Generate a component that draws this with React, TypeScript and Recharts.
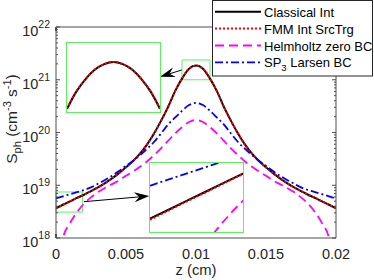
import React from 'react';
import { LineChart, Line, XAxis, YAxis, ReferenceArea, ReferenceLine, Legend } from 'recharts';

const FONT = '"Liberation Sans", Arial, Helvetica, sans-serif';
const INK = '#262626';
const AXIS = '#4d4d4d';
const BOX_GREEN = '#5ef05e';

// z positions (cm)
const zValues = [
  0, 0.0005, 0.001, 0.0015, 0.002, 0.0025, 0.003, 0.0035, 0.004, 0.0045,
  0.005, 0.0055, 0.006, 0.0065, 0.007, 0.0075, 0.008, 0.0085, 0.009, 0.0095,
  0.01,
  0.0105, 0.011, 0.0115, 0.012, 0.0125, 0.013, 0.0135, 0.014, 0.0145, 0.015,
  0.0155, 0.016, 0.0165, 0.017, 0.0175, 0.018, 0.0185, 0.019, 0.0195, 0.02,
];

// S_ph (cm^-3 s^-1)
const classicalInt = [
  3.67e18, 4.27e18, 4.95e18, 5.75e18, 6.61e18, 7.76e18, 9.12e18, 1.1e19, 1.35e19, 1.7e19,
  2.19e19, 2.88e19, 3.98e19, 5.89e19, 9.55e19, 1.66e20, 3.02e20, 6.03e20, 1.05e21, 1.62e21,
  1.86e21,
  1.62e21, 1.05e21, 6.03e20, 3.02e20, 1.66e20, 9.55e19, 5.89e19, 3.98e19, 2.88e19, 2.19e19,
  1.7e19, 1.35e19, 1.1e19, 9.12e18, 7.76e18, 6.61e18, 5.75e18, 4.95e18, 4.27e18, 3.67e18,
];

const fmmIntSrcTrg = [
  3.67e18, 4.27e18, 4.95e18, 5.75e18, 6.61e18, 7.76e18, 9.12e18, 1.1e19, 1.35e19, 1.7e19,
  2.19e19, 2.88e19, 3.98e19, 5.89e19, 9.55e19, 1.66e20, 3.02e20, 6.03e20, 1.05e21, 1.62e21,
  1.86e21,
  1.62e21, 1.05e21, 6.03e20, 3.02e20, 1.66e20, 9.55e19, 5.89e19, 3.98e19, 2.88e19, 2.19e19,
  1.7e19, 1.35e19, 1.1e19, 9.12e18, 7.76e18, 6.61e18, 5.75e18, 4.95e18, 4.27e18, 3.67e18,
];

const helmholtzZeroBC = [
  1e17, 1.0e18, 1.91e18, 3.09e18, 4.47e18, 5.89e18, 7.41e18, 8.91e18, 1.05e19, 1.23e19,
  1.51e19, 1.82e19, 2.24e19, 2.82e19, 3.72e19, 5.01e19, 6.92e19, 9.55e19, 1.26e20, 1.58e20,
  1.74e20,
  1.58e20, 1.26e20, 9.55e19, 6.92e19, 5.01e19, 3.72e19, 2.82e19, 2.24e19, 1.82e19, 1.51e19,
  1.23e19, 1.05e19, 8.91e18, 7.41e18, 5.89e18, 4.47e18, 3.09e18, 1.91e18, 1.0e18, 1e17,
];

const sp3LarsenBC = [
  5.62e18, 6.17e18, 6.76e18, 7.41e18, 8.13e18, 9.12e18, 1.07e19, 1.26e19, 1.51e19, 1.86e19,
  2.34e19, 2.88e19, 3.72e19, 4.9e19, 6.61e19, 9.55e19, 1.41e20, 1.91e20, 2.57e20, 3.31e20,
  3.63e20,
  3.31e20, 2.57e20, 1.91e20, 1.41e20, 9.55e19, 6.61e19, 4.9e19, 3.72e19, 2.88e19, 2.34e19,
  1.86e19, 1.51e19, 1.26e19, 1.07e19, 9.12e18, 8.13e18, 7.41e18, 6.76e18, 6.17e18, 5.62e18,
];

// zoomed peak (upper inset)
const peakZ = [0.009, 0.0092, 0.0094, 0.0096, 0.0098, 0.01, 0.0102, 0.0104, 0.0106, 0.0108, 0.011];
const peakClassical = [1.04e21, 1.29e21, 1.51e21, 1.7e21, 1.82e21, 1.87e21, 1.82e21, 1.7e21, 1.51e21, 1.29e21, 1.04e21];
const peakFmm = [1.04e21, 1.29e21, 1.51e21, 1.7e21, 1.82e21, 1.87e21, 1.82e21, 1.7e21, 1.51e21, 1.29e21, 1.04e21];

// zoomed left edge (lower inset)
const edgeZ = [0, 0.0004, 0.0008, 0.0012, 0.0016, 0.002];
const edgeClassical = [3.67e18, 4.14e18, 4.68e18, 5.27e18, 5.96e18, 6.71e18];
const edgeFmm = [3.62e18, 4.1e18, 4.64e18, 5.23e18, 5.92e18, 6.67e18];
const edgeHelmholtz = [1e17, 8.9e17, 1.9e18, 2.8e18, 3.8e18, 4.9e18];
const edgeSp3 = [5.58e18, 6.07e18, 6.59e18, 7.16e18, 7.78e18, 8.45e18];

const xTicks = [0, 0.005, 0.01, 0.015, 0.02];
const yTicks = [1e18, 1e19, 1e20, 1e21, 1e22];
const yMinorTicks = [18, 19, 20, 21].flatMap((e) => [2, 3, 4, 5, 6, 7, 8, 9].map((m) => m * 10 ** e));
const yAllTicks = [...yTicks, ...yMinorTicks];

const mainData = zValues.map((z, i) => ({
  z,
  classical: classicalInt[i],
  fmm: fmmIntSrcTrg[i],
  helmholtz: helmholtzZeroBC[i],
  sp3: sp3LarsenBC[i],
}));
const peakData = peakZ.map((z, i) => ({ z, classical: peakClassical[i], fmm: peakFmm[i] }));
const edgeData = edgeZ.map((z, i) => ({
  z,
  classical: edgeClassical[i],
  fmm: edgeFmm[i],
  helmholtz: edgeHelmholtz[i],
  sp3: edgeSp3[i],
}));

const series = [
  { key: 'classical', label: 'Classical Int', color: '#000000', width: 2, dash: undefined as string | undefined },
  { key: 'fmm', label: 'FMM Int SrcTrg', color: '#ff0000', width: 2, dash: '2 2' },
  { key: 'helmholtz', label: 'Helmholtz zero BC', color: '#ff00ff', width: 1.8, dash: '9 5' },
  { key: 'sp3', label: 'SP3 Larsen BC', color: '#0000ff', width: 1.8, dash: '8 3 2 3' },
];

const XTickLabel = ({ x, y, payload }: any) => (
  <text x={x} y={y + 20.5} textAnchor="middle" fontSize={14.5} fontFamily={FONT} fill={INK}>
    {String(payload.value)}
  </text>
);

const YTickLabel = ({ x, y, payload }: any) => {
  const exp = Math.round(Math.log10(payload.value));
  return (
    <text x={x - 6} y={y + 9} textAnchor="end" fontSize={14.5} fontFamily={FONT} fill={INK}>
      10<tspan dy={-8} fontSize={10.5}>{exp}</tspan>
    </text>
  );
};

const isMajor = (v: number) => yTicks.includes(v);

const LeftMark = ({ x, y, payload }: any) => (
  <line x1={x} x2={x + (isMajor(payload.value) ? 4 : 2)} y1={y} y2={y} stroke={AXIS} strokeWidth={1} />
);
const RightMark = ({ x, y, payload }: any) => (
  <line x1={x} x2={x - (isMajor(payload.value) ? 4 : 2)} y1={y} y2={y} stroke={AXIS} strokeWidth={1} />
);
const BottomMark = ({ x, y }: any) => <line x1={x} x2={x} y1={y} y2={y - 4} stroke={AXIS} strokeWidth={1} />;
const TopMark = ({ x, y }: any) => <line x1={x} x2={x} y1={y} y2={y + 4} stroke={AXIS} strokeWidth={1} />;

const XTitle = () => (
  <text x={196} y={274.5} textAnchor="middle" fontSize={14.8} fontFamily={FONT} fill={INK}>
    z (cm)
  </text>
);

const YTitle = () => (
  <text
    x={17}
    y={119}
    transform="rotate(-90, 17, 119)"
    textAnchor="middle"
    fontSize={15.5}
    fontFamily={FONT}
    fill={INK}
  >
    S<tspan dy={4} fontSize={11}>ph</tspan>
    <tspan dy={-4}>{' (cm'}</tspan>
    <tspan dy={-6} fontSize={11}>-3</tspan>
    <tspan dy={6}>{' s'}</tspan>
    <tspan dy={-6} fontSize={11}>-1</tspan>
    <tspan dy={6}>)</tspan>
  </text>
);

// line with a swept-back arrow head at the second point
const ArrowShape = (props: any) => {
  const { x1, y1, x2, y2 } = props;
  const dx = x2 - x1;
  const dy = y2 - y1;
  const len = Math.hypot(dx, dy) || 1;
  const ux = dx / len;
  const uy = dy / len;
  const px = -uy;
  const py = ux;
  const L = 15;
  const W = 5;
  const N = 10;
  const bx = x2 - ux * L;
  const by = y2 - uy * L;
  const nx = x2 - ux * N;
  const ny = y2 - uy * N;
  const pts = `${x2},${y2} ${bx + px * W},${by + py * W} ${nx},${ny} ${bx - px * W},${by - py * W}`;
  return (
    <g>
      <line x1={x1} y1={y1} x2={nx} y2={ny} stroke="#000" strokeWidth={1} />
      <polygon points={pts} fill="#000" />
    </g>
  );
};

const LegendBox = () => (
  <svg width={161} height={77} style={{ display: 'block' }}>
    <rect x={0.5} y={0.5} width={160} height={75.5} fill="#fff" stroke={INK} strokeWidth={1} />
    {series.map((s, i) => {
      const cy = 11.7 + i * 16.9;
      return (
        <g key={s.key}>
          <line x1={3} x2={49} y1={cy} y2={cy} stroke={s.color} strokeWidth={s.width} strokeDasharray={s.dash} />
          <text x={52} y={cy + 5} fontSize={13} fontFamily={FONT} fill="#000">
            {s.key === 'sp3' ? (
              <>
                SP<tspan dy={4} fontSize={9.5}>3</tspan>
                <tspan dy={-4}>{' Larsen BC'}</tspan>
              </>
            ) : (
              s.label
            )}
          </text>
        </g>
      );
    })}
  </svg>
);

const renderLines = (keys: string[]) =>
  series
    .filter((s) => keys.includes(s.key))
    .map((s) => (
      <Line
        key={s.key}
        type="monotone"
        dataKey={s.key}
        name={s.label}
        stroke={s.color}
        strokeWidth={s.width}
        strokeDasharray={s.dash}
        dot={false}
        activeDot={false}
        isAnimationActive={false}
      />
    ));

const Inset = ({ left, top, data, xDomain, yDomain, keys }: any) => (
  <div
    style={{
      position: 'absolute',
      left,
      top,
      width: 95,
      height: 71,
      border: `1px solid ${BOX_GREEN}`,
      background: '#fff',
      boxSizing: 'border-box',
    }}
  >
    <LineChart width={93} height={69} data={data} margin={{ top: 0, right: 0, bottom: 0, left: 0 }}>
      <XAxis dataKey="z" type="number" domain={xDomain} allowDataOverflow hide />
      <YAxis scale="log" domain={yDomain} allowDataOverflow hide />
      {renderLines(keys)}
    </LineChart>
  </div>
);

export default function App() {
  return (
    <div style={{ position: 'absolute', left: 0, top: 0, width: 374, height: 280, background: '#fff' }}>
      <LineChart width={374} height={280} data={mainData} margin={{ top: 27, right: 38, bottom: 0, left: 0 }}>
        <XAxis
          dataKey="z"
          type="number"
          domain={[0, 0.02]}
          ticks={xTicks}
          interval={0}
          height={42}
          tickSize={0}
          tickMargin={0}
          tickLine={false}
          axisLine={{ stroke: AXIS }}
          tick={(p: any) => <XTickLabel {...p} />}
          label={{ content: () => <XTitle /> }}
          allowDataOverflow
        />
        <XAxis
          xAxisId="bottomMarks"
          orientation="bottom"
          mirror
          type="number"
          domain={[0, 0.02]}
          ticks={xTicks}
          interval={0}
          tickSize={0}
          tickMargin={0}
          tickLine={false}
          axisLine={false}
          tick={(p: any) => <BottomMark {...p} />}
          allowDataOverflow
        />
        <XAxis
          xAxisId="topMarks"
          orientation="top"
          mirror
          type="number"
          domain={[0, 0.02]}
          ticks={xTicks}
          interval={0}
          tickSize={0}
          tickMargin={0}
          tickLine={false}
          axisLine={{ stroke: AXIS }}
          tick={(p: any) => <TopMark {...p} />}
          allowDataOverflow
        />
        <YAxis
          scale="log"
          domain={[1e18, 1e22]}
          ticks={yTicks}
          interval={0}
          width={56}
          tickSize={0}
          tickMargin={0}
          tickLine={false}
          axisLine={{ stroke: AXIS }}
          tick={(p: any) => <YTickLabel {...p} />}
          label={{ content: () => <YTitle /> }}
          allowDataOverflow
        />
        <YAxis
          yAxisId="leftMarks"
          orientation="left"
          mirror
          scale="log"
          domain={[1e18, 1e22]}
          ticks={yAllTicks}
          interval={0}
          tickSize={0}
          tickMargin={0}
          tickLine={false}
          axisLine={false}
          tick={(p: any) => <LeftMark {...p} />}
          allowDataOverflow
        />
        <YAxis
          yAxisId="rightMarks"
          orientation="right"
          mirror
          scale="log"
          domain={[1e18, 1e22]}
          ticks={yAllTicks}
          interval={0}
          tickSize={0}
          tickMargin={0}
          tickLine={false}
          axisLine={{ stroke: AXIS }}
          tick={(p: any) => <RightMark {...p} />}
          allowDataOverflow
        />
        {renderLines(['classical', 'fmm', 'helmholtz', 'sp3'])}
        <ReferenceArea x1={0.009} x2={0.011} y1={1e21} y2={2.37e21} stroke={BOX_GREEN} strokeWidth={1} fill="none" />
        <ReferenceArea x1={0} x2={0.0019} y1={3.1e18} y2={7.45e18} stroke={BOX_GREEN} strokeWidth={1} fill="none" />
        <ReferenceLine
          segment={[
            { x: 0.00898, y: 1.53e21 },
            { x: 0.00743, y: 1.14e21 },
          ]}
          shape={(p: any) => <ArrowShape {...p} />}
        />
        <ReferenceLine
          segment={[
            { x: 0.002, y: 4.88e18 },
            { x: 0.00666, y: 6.25e18 },
          ]}
          shape={(p: any) => <ArrowShape {...p} />}
        />
        <Legend
          layout="vertical"
          align="center"
          verticalAlign="middle"
          wrapperStyle={{ left: 212, top: 0, width: 161 }}
          content={() => <LegendBox />}
        />
      </LineChart>
      <Inset
        left={66}
        top={42}
        data={peakData}
        xDomain={[0.009, 0.011]}
        yDomain={[1e21, 2.37e21]}
        keys={['classical', 'fmm']}
      />
      <Inset
        left={149}
        top={162}
        data={edgeData}
        xDomain={[0, 0.0019]}
        yDomain={[3.1e18, 7.45e18]}
        keys={['classical', 'fmm', 'helmholtz', 'sp3']}
      />
    </div>
  );
}
